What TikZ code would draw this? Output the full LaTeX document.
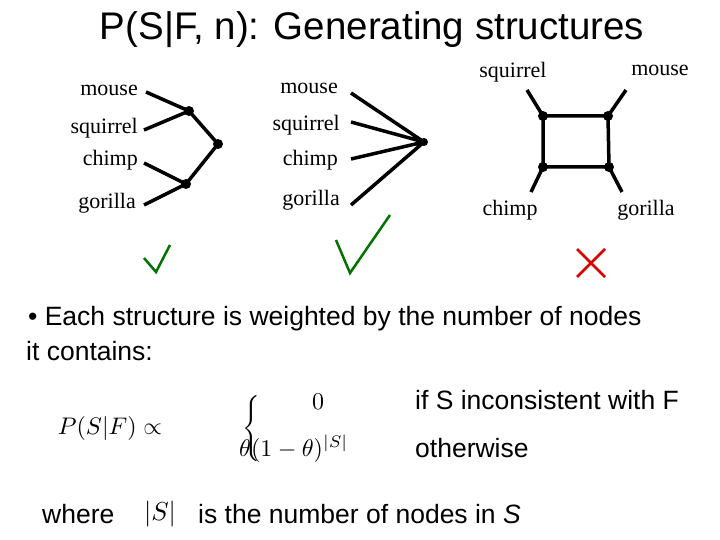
\documentclass[tikz,border=0pt]{standalone}
\usepackage{fontspec}
\usepackage{amsmath}
\usepackage{graphicx}
\setmainfont{Liberation Sans}
\newfontfamily\serifl{Liberation Serif}
\begin{document}
\begin{tikzpicture}[x=1pt,y=-1pt,
  lab/.style={font=\serifl\fontsize{22}{24}\selectfont,inner sep=0pt},
  dot/.style={circle,fill=black,inner sep=0pt,minimum size=10pt},
  edge/.style={line width=3.5pt},
  sans/.style={font=\fontsize{26.5}{30}\selectfont,inner sep=0pt,anchor=west},
  mth/.style={inner sep=0pt}]
\useasboundingbox (0,0) rectangle (720,540);
\node[font=\fontsize{38.5}{42}\selectfont] (title) at (372,30) {P(S|F, n): Generating structures};
% tree 1
\node[lab,anchor=east] (m1) at (138,90) {mouse};
\node[lab,anchor=east] (s1) at (138,128) {squirrel};
\node[lab,anchor=east] (c1) at (138,160) {chimp};
\node[lab,anchor=east] (g1) at (136,203) {gorilla};
\coordinate (m1e) at (146,92); \coordinate (s1e) at (144,130);
\coordinate (c1e) at (144,163); \coordinate (g1e) at (144,205);
\node[dot] (a1) at (189,111) {}; \node[dot] (b1) at (218,144) {}; \node[dot] (d1) at (186,184) {};
\draw[edge] (m1e) -- (a1.center) (s1e) -- (a1.center) (a1.center) -- (b1.center) -- (d1.center) (c1e) -- (d1.center) (g1e) -- (d1.center);
% tree 2
\node[lab,anchor=east] (m2) at (338,88) {mouse};
\node[lab,anchor=east] (s2) at (340,125) {squirrel};
\node[lab,anchor=east] (c2) at (338,160) {chimp};
\node[lab,anchor=east] (g2) at (340,200) {gorilla};
\coordinate (m2e) at (351,93); \coordinate (s2e) at (351,122);
\coordinate (c2e) at (351,159); \coordinate (g2e) at (351,205);
\node[dot,minimum size=8pt] (h2) at (424,142) {};
\draw[edge] (m2e) -- (h2.center) (s2e) -- (h2.center) (c2e) -- (h2.center) (g2e) -- (h2.center);
% square
\node[lab] (s3) at (513,72) {squirrel};
\node[lab] (m3) at (660,70) {mouse};
\node[lab] (c3) at (510,210) {chimp};
\node[lab] (g3) at (646,210) {gorilla};
\node[dot] (q1) at (543,116) {}; \node[dot] (q2) at (608,116) {};
\node[dot] (q3) at (543,167) {}; \node[dot] (q4) at (609,167) {};
\coordinate (s3e) at (527,90); \coordinate (m3e) at (626,90);
\coordinate (c3e) at (531,192); \coordinate (g3e) at (622,192);
\draw[edge] (q1.center) -- (q2.center) -- (q4.center) -- (q3.center) -- cycle;
\draw[edge] (s3e) -- (q1.center) (m3e) -- (q2.center) (c3e) -- (q3.center) (g3e) -- (q4.center);
% marks
\draw[green!45!black,line width=2.5pt] (144,258) -- (156,272) -- (170,245);
\draw[green!45!black,line width=2.5pt] (336,240) -- (350,273) -- (390,215);
\draw[red!85!black,line width=2.5pt] (577,249) -- (605,277) (605,249) -- (577,277);
% text
\node[sans] (b) at (28,319) {\textbullet\ Each structure is weighted by the number of nodes};
\node[sans] (b2) at (26,351) {it contains:};
\node[mth] (p) at (110,428) {\scalebox{2.4}{$P(S|F)\propto$}};
\node[mth] (br) at (253,427) {\scalebox{2.2}{$\left\{\rule{0pt}{19pt}\right.$}};
\node[mth] (z) at (318,402) {\scalebox{2.4}{$0$}};
\node[mth,anchor=west] (t) at (239,449) {\scalebox{2.4}{$\theta(1-\theta)^{|S|}$}};
\node[sans] (i1) at (415,400) {if S inconsistent with F};
\node[sans] (i2) at (415,448) {otherwise};
\node[sans] (w) at (42,514) {where};
\node[mth] (sabs) at (160,514) {\scalebox{2.6}{$|S|$}};
\node[sans] (w2) at (198,514) {is the number of nodes in \textit{S}};
\end{tikzpicture}
\end{document}
